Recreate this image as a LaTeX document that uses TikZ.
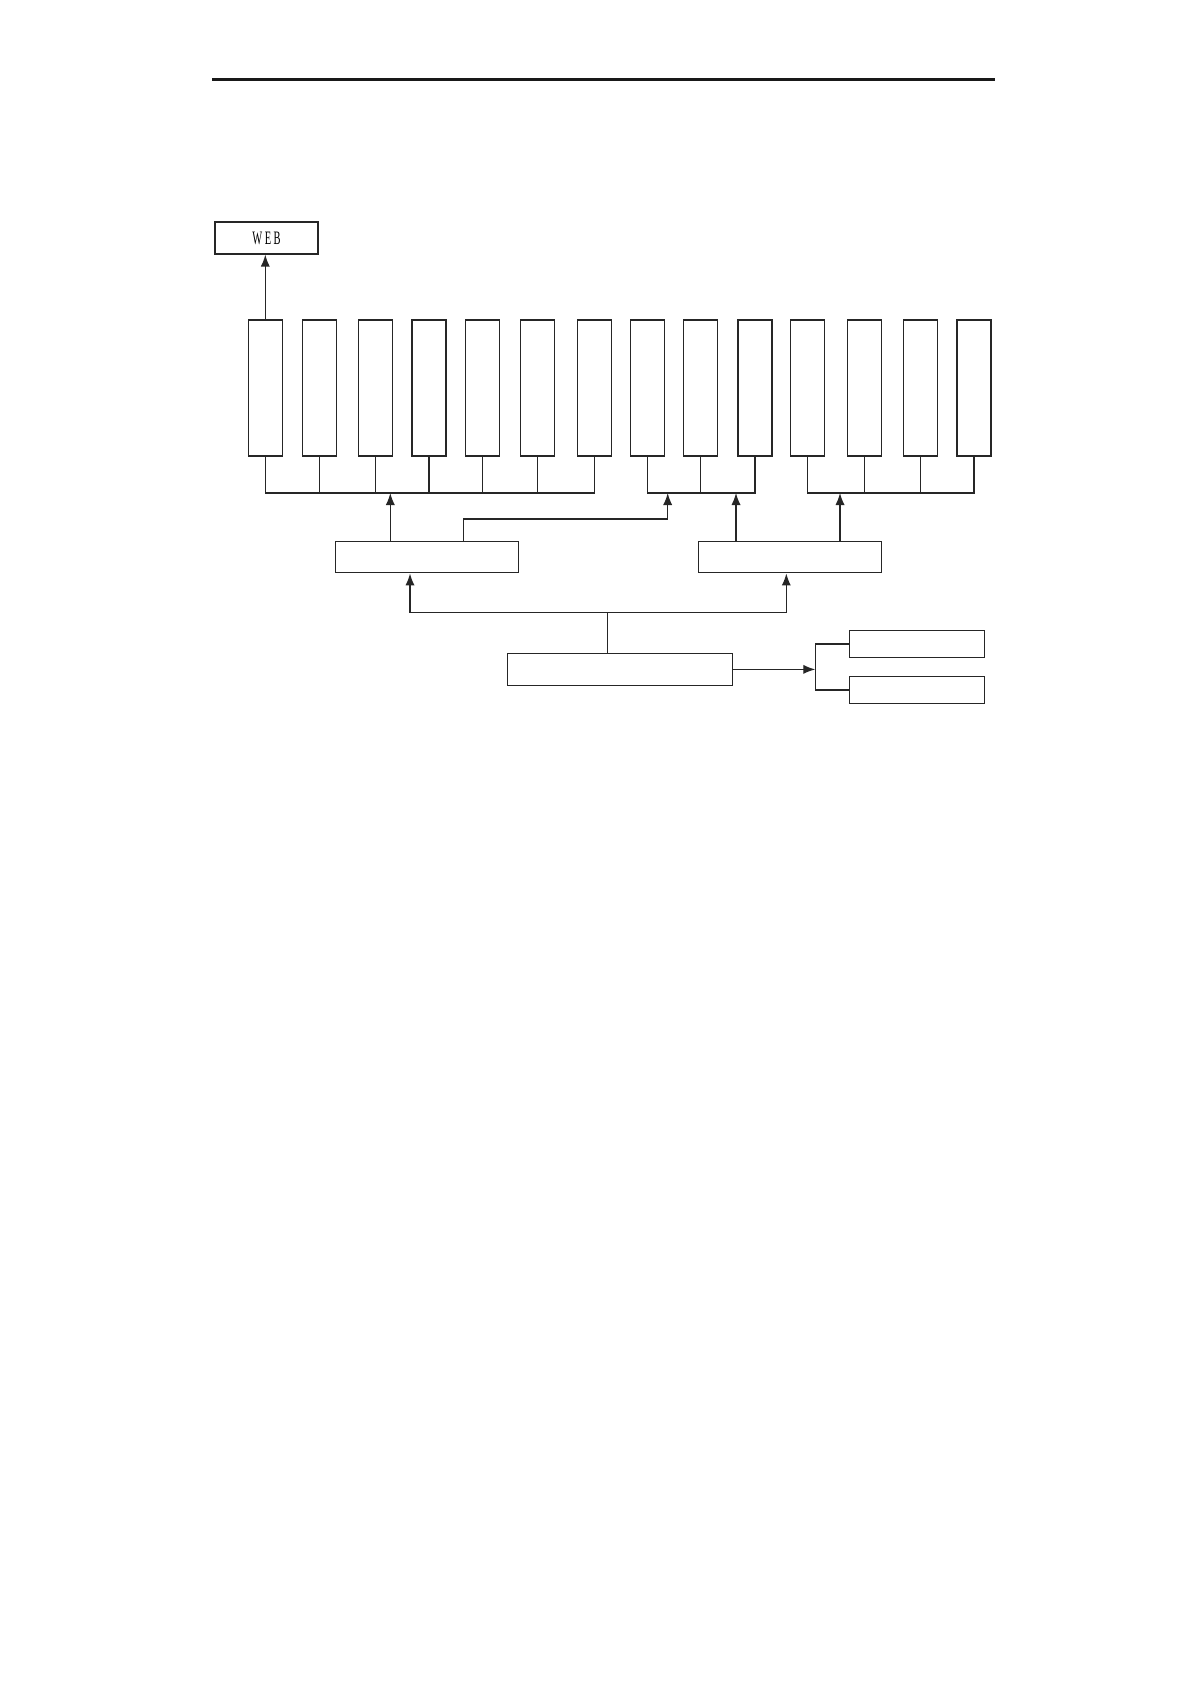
\documentclass[tikz,border=0pt]{standalone}
\usepackage{fontspec}
\setmainfont{Liberation Serif}
\usetikzlibrary{arrows.meta,calc}

\begin{document}
\begin{tikzpicture}[x=0.5pt,y=0.5pt,yscale=-1,xscale=1,
  line/.style={draw=black!85,line width=0.65pt},
  arr/.style={line,-{Latex[length=6pt,width=4.6pt]}},
  tallbox/.style={line,rectangle,inner sep=0pt,minimum width=17pt,minimum height=68pt},
  midbox/.style={line,rectangle,inner sep=0pt,minimum width=91.5pt,minimum height=15.8pt},
  sidebox/.style={line,rectangle,inner sep=0pt,minimum width=67.5pt,minimum height=13.2pt}]
\useasboundingbox (0,0) rectangle (1190,1684);
%Straight Lines: header rule
\draw [line width=1.25pt,black!90] (212,79.5) -- (995,79.5) ;
%Shape: Rectangle
\node [line,rectangle,inner sep=0pt,minimum width=51.5pt,minimum height=16pt,font=\fontsize{9.5}{9.5}\selectfont] (web) at (266.5,238) {\scalebox{0.55}[1]{W\hspace{2.3pt}E\hspace{2.3pt}B}};
%Shape: tall boxes, left group
\node [tallbox] (b1) at (265.3,388) {};
\node [tallbox] (b2) at (319.3,388) {};
\node [tallbox] (b3) at (375.7,388) {};
\node [tallbox] (b4) at (429,388) {};
\node [tallbox] (b5) at (482.3,388) {};
\node [tallbox] (b6) at (537.3,388) {};
\node [tallbox] (b7) at (594.3,388) {};
%Shape: tall boxes, middle group
\node [tallbox] (b8) at (647.3,388) {};
\node [tallbox] (b9) at (700.7,388) {};
\node [tallbox] (b10) at (755,388) {};
%Shape: tall boxes, right group
\node [tallbox] (b11) at (807.7,388) {};
\node [tallbox] (b12) at (864.5,388) {};
\node [tallbox] (b13) at (920.3,388) {};
\node [tallbox] (b14) at (974,388) {};
%Shape: Rectangle
\node [midbox] (mL) at (426.8,557) {};
\node [midbox] (mR) at (790,557) {};
\node [line,rectangle,inner sep=0pt,minimum width=112.7pt,minimum height=16pt] (bot) at (620,669.4) {};
\node [sidebox] (rA) at (916.8,644) {};
\node [sidebox] (rB) at (916.7,690) {};
% bus and junction points
\coordinate (busy) at (0,493);
\coordinate (in1) at (390.3,493);
\coordinate (in2) at (667.7,493);
\coordinate (in3) at (736,493);
\coordinate (in4) at (840,493);
\coordinate (split) at (607.3,612.3);
\coordinate (br) at (815.3,669.4);
%Straight Lines
\draw [arr] (b1.north) -- (b1.north |- web.south) ;
%Straight Lines: left bus
\draw [line] (b1.south) -- (b1.south |- busy) -- (b7.south |- busy) -- (b7.south) ;
\draw [line] (b2.south) -- (b2.south |- busy) ;
\draw [line] (b3.south) -- (b3.south |- busy) ;
\draw [line] (b4.south) -- (b4.south |- busy) ;
\draw [line] (b5.south) -- (b5.south |- busy) ;
\draw [line] (b6.south) -- (b6.south |- busy) ;
%Straight Lines: middle bus
\draw [line] (b8.south) -- (b8.south |- busy) -- (b10.south |- busy) -- (b10.south) ;
\draw [line] (b9.south) -- (b9.south |- busy) ;
%Straight Lines: right bus
\draw [line] (b11.south) -- (b11.south |- busy) -- (b14.south |- busy) -- (b14.south) ;
\draw [line] (b12.south) -- (b12.south |- busy) ;
\draw [line] (b13.south) -- (b13.south |- busy) ;
%Straight Lines: up from the middle boxes
\draw [arr] (in1 |- mL.north) -- (in1) ;
\draw [arr] ($(mL.north)+(36.9,0)$) -- ++(0,-21.7) -| (in2) ;
\draw [arr] (in3 |- mR.north) -- (in3) ;
\draw [arr] (in4 |- mR.north) -- (in4) ;
%Straight Lines: up from the bottom box
\draw [line] (split |- bot.north) -- (split) ;
\draw [arr] (split) -| ($(mL.south)+(-16.8,0)$) ;
\draw [arr] (split) -| ($(mR.south)+(-3.7,0)$) ;
%Straight Lines: to the side boxes
\draw [arr] (bot.east) -- (br) ;
\draw [line] (rA.west) -| (br) |- (rB.west) ;
\end{tikzpicture}
\end{document}
